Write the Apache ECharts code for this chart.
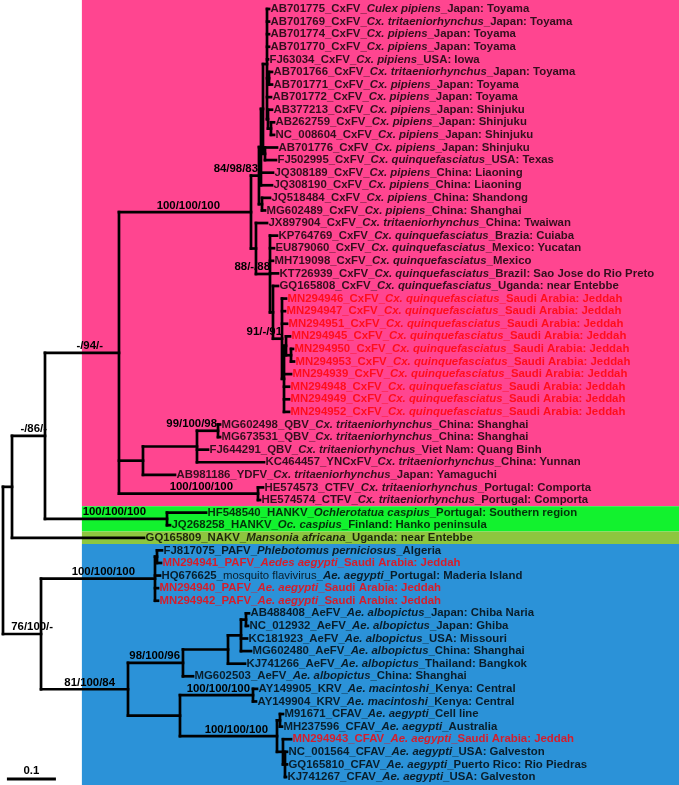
<!DOCTYPE html>
<html><head><meta charset="utf-8">
<script src="https://cdn.jsdelivr.net/npm/echarts@6/dist/echarts.min.js"></script>
<style>html,body{margin:0;padding:0;background:#fff}#c{width:679px;height:785px}</style>
</head><body><div id="c"></div>
<script>
// ---------------- DATA ----------------
const leafAccession = ['AB701775','AB701769','AB701774','AB701770','FJ63034','AB701766','AB701771','AB701772','AB377213','AB262759','NC_008604','AB701776','FJ502995','JQ308189','JQ308190','JQ518484','MG602489','JX897904','KP764769','EU879060','MH719098','KT726939','GQ165808','MN294946','MN294947','MN294951','MN294945','MN294950','MN294953','MN294939','MN294948','MN294949','MN294952','MG602498','MG673531','FJ644291','KC464457','AB981186','HE574573','HE574574','HF548540','JQ268258','GQ165809','FJ817075','MN294941','HQ676625','MN294940','MN294942','AB488408','NC_012932','KC181923','MG602480','KJ741266','MG602503','AY149905','AY149904','M91671','MH237596','MN294943','NC_001564','GQ165810','KJ741267'];
const leafVirus = ['CxFV','CxFV','CxFV','CxFV','CxFV','CxFV','CxFV','CxFV','CxFV','CxFV','CxFV','CxFV','CxFV','CxFV','CxFV','CxFV','CxFV','CxFV','CxFV','CxFV','CxFV','CxFV','CxFV','CxFV','CxFV','CxFV','CxFV','CxFV','CxFV','CxFV','CxFV','CxFV','CxFV','QBV','QBV','QBV','YNCxFV','YDFV','CTFV','CTFV','HANKV','HANKV','NAKV','PAFV','PAFV','mosquito flavivirus','PAFV','PAFV','AeFV','AeFV','AeFV','AeFV','AeFV','AeFV','KRV','KRV','CFAV','CFAV','CFAV','CFAV','CFAV','CFAV'];
const leafHost = ['Culex pipiens','Cx. tritaeniorhynchus','Cx. pipiens','Cx. pipiens','Cx. pipiens','Cx. tritaeniorhynchus','Cx. pipiens','Cx. pipiens','Cx. pipiens','Cx. pipiens','Cx. pipiens','Cx. pipiens','Cx. quinquefasciatus','Cx. pipiens','Cx. pipiens','Cx. pipiens','Cx. pipiens','Cx. tritaeniorhynchus','Cx. quinquefasciatus','Cx. quinquefasciatus','Cx. quinquefasciatus','Cx. quinquefasciatus','Cx. quinquefasciatus','Cx. quinquefasciatus','Cx. quinquefasciatus','Cx. quinquefasciatus','Cx. quinquefasciatus','Cx. quinquefasciatus','Cx. quinquefasciatus','Cx. quinquefasciatus','Cx. quinquefasciatus','Cx. quinquefasciatus','Cx. quinquefasciatus','Cx. tritaeniorhynchus','Cx. tritaeniorhynchus','Cx. tritaeniorhynchus','Cx. tritaeniorhynchus','Cx. tritaeniorhynchus','Cx. tritaeniorhynchus','Cx. tritaeniorhynchus','Ochlerotatua caspius','Oc. caspius','Mansonia africana','Phlebotomus perniciosus','Aedes aegypti','Ae. aegypti','Ae. aegypti','Ae. aegypti','Ae. albopictus','Ae. albopictus','Ae. albopictus','Ae. albopictus','Ae. albopictus','Ae. albopictus','Ae. macintoshi','Ae. macintoshi','Ae. aegypti','Ae. aegypti','Ae. aegypti','Ae. aegypti','Ae. aegypti','Ae. aegypti'];
const leafOrigin = ['Japan: Toyama','Japan: Toyama','Japan: Toyama','Japan: Toyama','USA: Iowa','Japan: Toyama','Japan: Toyama','Japan: Toyama','Japan: Shinjuku','Japan: Shinjuku','Japan: Shinjuku','Japan: Shinjuku','USA: Texas','China: Liaoning','China: Liaoning','China: Shandong','China: Shanghai','China: Twaiwan','Brazia: Cuiaba','Mexico: Yucatan','Mexico','Brazil: Sao Jose do Rio Preto','Uganda: near Entebbe','Saudi Arabia: Jeddah','Saudi Arabia: Jeddah','Saudi Arabia: Jeddah','Saudi Arabia: Jeddah','Saudi Arabia: Jeddah','Saudi Arabia: Jeddah','Saudi Arabia: Jeddah','Saudi Arabia: Jeddah','Saudi Arabia: Jeddah','Saudi Arabia: Jeddah','China: Shanghai','China: Shanghai','Viet Nam: Quang Binh','China: Yunnan','Japan: Yamaguchi','Portugal: Comporta','Portugal: Comporta','Portugal: Southern region','Finland: Hanko peninsula','Uganda: near Entebbe','Algeria','Saudi Arabia: Jeddah','Portugal: Maderia Island','Saudi Arabia: Jeddah','Saudi Arabia: Jeddah','Japan: Chiba Naria','Japan: Ghiba','USA: Missouri','China: Shanghai','Thailand: Bangkok','China: Shanghai','Kenya: Central','Kenya: Central','Cell line','Australia','Saudi Arabia: Jeddah','USA: Galveston','Puerto Rico: Rio Piedras','USA: Galveston'];
// 1 = sequence from this study (Jeddah)
const leafThisStudy = [0,0,0,0,0,0,0,0,0,0,0,0,0,0,0,0,0,0,0,0,0,0,0,1,1,1,1,1,1,1,1,1,1,0,0,0,0,0,0,0,0,0,0,0,1,0,1,1,0,0,0,0,0,0,0,0,0,0,1,0,0,0];
const leafParent = ['R','R','R','R','R','T','T','R','U','V','V','S','S','Q','Q','N','N','L','W','W','W','W','X','Y','Y','Y','Z1','Z2','Z2','Z','Z','Z','Z','H','H','G','G','F','I','I','HK','HK','A','PB','PB','PA','PA','PA','AJ','AJ','AI','AI','AH','AF','AK','AK','AM','AM','AN','AO','AO','AO'];
const leafDepth = [0.5429,0.5429,0.5429,0.5429,0.5408,0.5490,0.5490,0.5469,0.5490,0.5531,0.5531,0.5592,0.5571,0.5510,0.5490,0.5449,0.5347,0.5388,0.5592,0.5531,0.5510,0.5612,0.5612,0.5776,0.5755,0.5796,0.5857,0.5918,0.5939,0.5878,0.5837,0.5837,0.5837,0.4429,0.4429,0.4184,0.5327,0.3510,0.5306,0.5245,0.4143,0.3408,0.2878,0.3245,0.3224,0.3204,0.3163,0.3163,0.5020,0.5000,0.4980,0.5061,0.4939,0.3878,0.5184,0.5163,0.5714,0.5694,0.5878,0.5796,0.5796,0.5776];
const nodeNames  = ['root','A','C','D','E','K','Q','P','R','T','U','V','S','N','L','W','X','Y','Z','Z1','Z2','F','G','H','I','HK','B','PA','PB','AE','AF','AH','AI','AJ','AG','AK','AL','AM','AN','AO'];
const nodeParent = [null,'root','A','C','D','E','K','Q','P','R','R','U','P','K','E','L','W','X','Y','Z','Z1','D','F','G','D','C','root','B','PA','B','AE','AF','AH','AI','AE','AG','AG','AL','AL','AN'];
const nodeDepth  = [0,0.0184,0.0857,0.2367,0.5061,0.5224,0.5265,0.5306,0.5388,0.5429,0.5408,0.5469,0.5347,0.5286,0.5163,0.5449,0.5510,0.5694,0.5735,0.5776,0.5878,0.2857,0.3959,0.4388,0.5204,0.3347,0.0776,0.3102,0.3143,0.2551,0.3673,0.4592,0.4857,0.4959,0.3612,0.5102,0.5592,0.5653,0.5714,0.5755];
const supportNode = ['K','E','W','Y','D','C','H','I','HK','PA','B','AF','AE','AK','AL'];
const supportText = ['84/98/83','100/100/100','88/-/88','91/-/91','-/94/-','-/86/-','99/100/98','100/100/100','100/100/100','100/100/100','76/100/-','98/100/96','81/100/84','100/100/100','100/100/100'];
const cladeFirstLeaf = [0,40,42,43];
const cladeLastLeaf  = [39,41,42,61];
const scaleBarLength = 0.1;
const scaleBarLabel = '0.1';

// ---------------- LAYOUT / STYLE ----------------
const cladeColors = ['#FF4590','#12F22E','#8DC63F','#2B92D8'];
const supportDx = [1,31,0,0,16,-2,1,25,21,20,-12,3,13,3,9];
const bandLeftDepth = 0.161;
const FONT = '"Liberation Sans", Arial, sans-serif';
const FS = 11.4;
const LW = 2.7;

// ---------------- TREE GEOMETRY ----------------
const idx = {}; nodeNames.forEach((n,i)=>idx[n]=i);
const kids = nodeNames.map(()=>[]);
const nodeY = nodeNames.map(()=>null);
function yOf(i){
  if(nodeY[i]!==null) return nodeY[i];
  const ys=[];
  leafParent.forEach((p,k)=>{ if(p===nodeNames[i]) ys.push(k); });
  nodeParent.forEach((p,k)=>{ if(p===nodeNames[i]) ys.push(yOf(k)); });
  nodeY[i]=(Math.min(...ys)+Math.max(...ys))/2;
  return nodeY[i];
}
nodeNames.forEach((n,i)=>yOf(i));
leafParent.forEach((p,k)=>kids[idx[p]].push([leafDepth[k],k]));
nodeParent.forEach((p,k)=>{ if(p!==null) kids[idx[p]].push([nodeDepth[k],nodeY[k]]); });

const lineStyle = {stroke:'#000', lineWidth:LW, lineCap:'square'};

const chart = echarts.init(document.getElementById('c'), null, {renderer:'canvas'});
const rich = {
  b:{fontFamily:FONT,fontSize:FS,fontWeight:'bold',color:'#000'},
  n:{fontFamily:FONT,fontSize:FS,fontWeight:'normal',color:'#000'},
  bi:{fontFamily:FONT,fontSize:FS,fontWeight:'bold',fontStyle:'italic',color:'#000'},
  r:{fontFamily:FONT,fontSize:FS,fontWeight:'bold',color:'#FF0000'},
  ri:{fontFamily:FONT,fontSize:FS,fontWeight:'bold',fontStyle:'italic',color:'#FF0000'}
};
function leafLabel(k){
  const red = leafThisStudy[k]===1;
  const s = red?'r':'b', si = red?'ri':'bi';
  const vs = leafVirus[k].indexOf(' ')>=0 ? 'n' : s;
  return '{'+s+'|'+leafAccession[k]+'_}{'+vs+'|'+leafVirus[k]+'}{'+s+'|_}{'+si+'|'+leafHost[k]+'}{'+s+'|_'+leafOrigin[k]+'}';
}

chart.setOption({
  animation:false,
  backgroundColor:'#fff',
  grid:{left:3, top:9, width:490, height:768},
  xAxis:{type:'value', min:0, max:1, show:false},
  yAxis:{type:'value', min:0, max:61, inverse:true, show:false},
  series:[
    { // clade bands
      type:'custom', clip:false, silent:true, z:1,
      data: cladeFirstLeaf.map((f,i)=>[f, cladeLastLeaf[i], i]),
      renderItem(params, api){
        const i = api.value(2);
        const f = api.value(0), l = api.value(1);
        const top = i===0 ? 0 : api.coord([0, f-0.5])[1];
        const bot = i===cladeFirstLeaf.length-1 ? 785 : api.coord([0, l+0.5])[1];
        const x0 = api.coord([bandLeftDepth, 0])[0];
        return {type:'rect', shape:{x:x0, y:top, width:679-x0, height:bot-top}, style:{fill:cladeColors[i]}};
      }
    },
    { // branches
      type:'custom', clip:false, silent:true, z:3,
      data: nodeNames.map((n,i)=>[nodeDepth[i], nodeY[i], i]),
      renderItem(params, api){
        const i = api.value(2);
        const p = api.coord([api.value(0), api.value(1)]);
        const cs = kids[i].map(k=>api.coord([k[0],k[1]]));
        const ys = cs.map(c=>c[1]);
        const els = [{type:'line', shape:{x1:p[0], y1:Math.min(...ys), x2:p[0], y2:Math.max(...ys)}, style:lineStyle}];
        cs.forEach(c=>els.push({type:'line', shape:{x1:p[0], y1:c[1], x2:c[0], y2:c[1]}, style:lineStyle}));
        return {type:'group', children:els};
      }
    },
    { // leaf labels
      type:'scatter', silent:true, z:4, symbolSize:0,
      data: leafDepth.map((d,k)=>[d,k]),
      label:{show:true, position:'right', distance:1.5,
        formatter:(p)=>leafLabel(p.dataIndex), rich:rich}
    },
    { // support values
      type:'custom', clip:false, silent:true, z:5,
      data: supportNode.map((n,k)=>[nodeDepth[idx[n]], nodeY[idx[n]], k]),
      renderItem(params, api){
        const k = api.value(2);
        const c = api.coord([api.value(0), api.value(1)]);
        return {type:'text', x:c[0]-supportDx[k], y:c[1]-1.2,
          style:{text:supportText[k], fill:'#000', fontFamily:FONT, fontSize:FS, fontWeight:'bold', align:'right', verticalAlign:'bottom'}};
      }
    },
    { // scale bar
      type:'custom', clip:false, silent:true, z:5,
      data:[[0.008, 61.16, scaleBarLength]],
      renderItem(params, api){
        const a = api.coord([api.value(0), api.value(1)]);
        const b = api.coord([api.value(0)+api.value(2), api.value(1)]);
        return {type:'group', children:[
          {type:'line', shape:{x1:a[0], y1:a[1], x2:b[0], y2:b[1]}, style:{stroke:'#000', lineWidth:3}},
          {type:'text', x:(a[0]+b[0])/2, y:a[1]-2.5, style:{text:scaleBarLabel, fill:'#000', fontFamily:FONT, fontSize:FS, fontWeight:'bold', align:'center', verticalAlign:'bottom'}}
        ]};
      }
    }
  ]
});
</script></body></html>
